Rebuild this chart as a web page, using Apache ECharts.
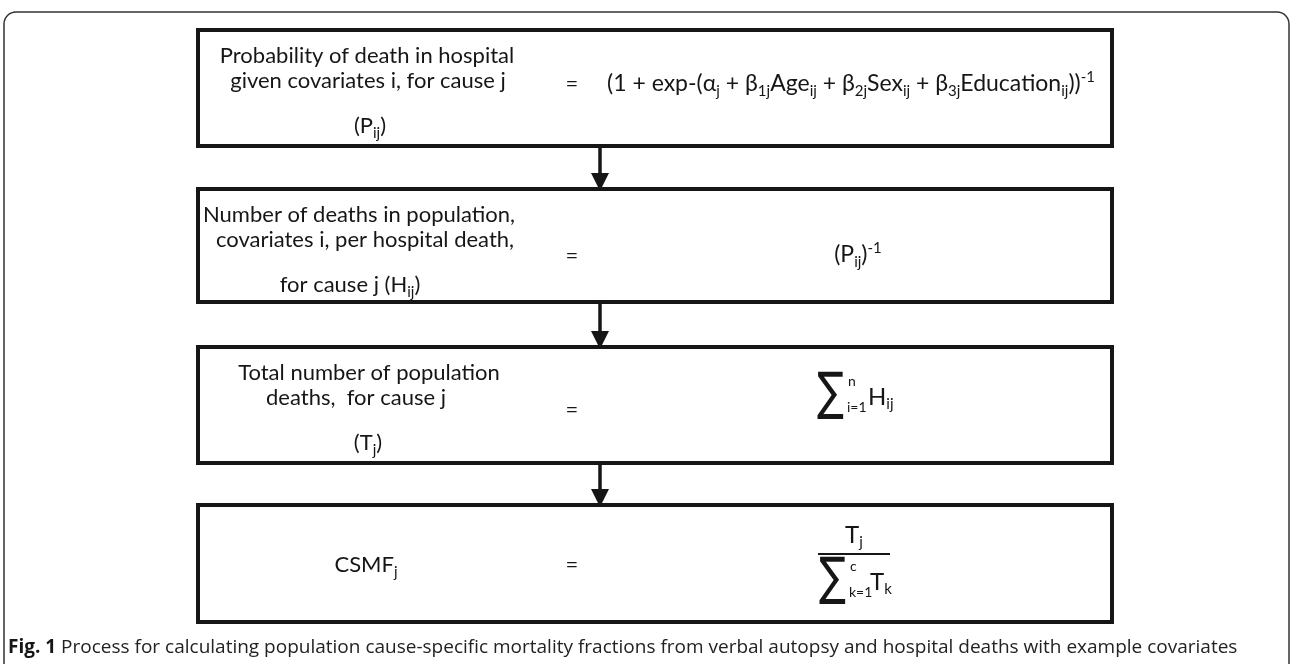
<!DOCTYPE html>
<html>
<head>
<meta charset="utf-8">
<script src="https://cdn.jsdelivr.net/npm/echarts@6/dist/echarts.min.js"></script>
<style>
html,body{margin:0;padding:0;background:#fff;}
#c{width:1293px;height:664px;}
</style>
</head>
<body>
<div id="c"></div>
<script>
// ---- content ----
var stepLines = [
  ['Probability of death in hospital', 'given covariates i, for cause j', '(P{sub|ij})'],
  ['Number of deaths in population,', 'covariates i, per hospital death,', 'for cause j (H{sub|ij})'],
  ['Total number of population', 'deaths,  for cause j', '(T{sub|j})'],
  ['CSMF{sub|j}']
];
var stepFormulas = [
  '(1 + exp-(α{sub|j} + β{sub|1j}Age{sub|ij} + β{sub|2j}Sex{sub|ij} + β{sub|3j}Education{sub|ij})){sup|-1}',
  '(P{sub|ij}){sup|-1}',
  null,
  null
];
var sumTerms = [
  null,
  null,
  {upper: 'n', lower: 'i=1', term: 'H', termSub: 'ij'},
  {upper: 'c', lower: 'k=1', term: 'T', termSub: 'k', numerator: 'T', numeratorSub: 'j'}
];
var captionBold = 'Fig. 1';
var captionText = ' Process for calculating population cause-specific mortality fractions from verbal autopsy and hospital deaths with example covariates';

// ---- layout ----
var boxLeft = 198, boxRight = 1112;
var boxTops = [30, 189, 347, 505];
var boxBottoms = [146, 302, 463, 622];
var lineOffsets = [26, 51, 96];
var lineCx = [[367, 368, 370], [359, 365, 350], [369, 356, 368], [366]];
var rowY = [84, 255, 404, 565];
var eqY = [84, 256, 410, 565];
var eqCx = 572, arrowX = 600;
var formulaCx = [851, 858];
var FONT = 'Lato, "Open Sans", sans-serif';
var BLACK = '#161616';

var rich = {
  sub: {fontSize: 15, fontFamily: FONT, padding: [14, 0, 0, 0], fill: BLACK},
  sup: {fontSize: 15, fontFamily: FONT, padding: [0, 0, 14, 0], fill: BLACK}
};

var els = [];
// outer frame
els.push({
  type: 'rect', shape: {x: 4, y: 12, width: 1285, height: 700, r: 12},
  style: {fill: 'none', stroke: '#333', lineWidth: 1.5}
});

function sumGroup(x, y, s) {
  var g = {type: 'group', x: x, y: y, children: []};
  g.children.push({type: 'text', x: -1, y: 0, scaleY: 1.3,
    style: {text: '∑', font: '40px "DejaVu Sans", sans-serif', fill: BLACK, align: 'left', verticalAlign: 'middle'}});
  g.children.push({type: 'text', x: 30, y: -14, style: {text: s.upper, font: '14px ' + FONT, fill: BLACK, align: 'left', verticalAlign: 'middle'}});
  g.children.push({type: 'text', x: 29, y: 12, style: {text: s.lower, font: '14px ' + FONT, fill: BLACK, align: 'left', verticalAlign: 'middle'}});
  g.children.push({type: 'text', x: 50, y: 2, style: {text: s.term + '{sub|' + s.termSub + '}', font: '24px ' + FONT, fill: BLACK, align: 'left', verticalAlign: 'middle', rich: rich}});
  return g;
}

for (var i = 0; i < boxTops.length; i++) {
  els.push({
    type: 'rect',
    shape: {x: boxLeft, y: boxTops[i], width: boxRight - boxLeft, height: boxBottoms[i] - boxTops[i]},
    style: {fill: 'none', stroke: BLACK, lineWidth: 4}
  });
  var lines = stepLines[i];
  for (var k = 0; k < lines.length; k++) {
    var ly = lines.length === 1 ? rowY[i] : boxTops[i] + lineOffsets[k];
    els.push({
      type: 'text', x: lineCx[i][k], y: ly,
      style: {text: lines[k], font: '22px ' + FONT, fill: BLACK, align: 'center', verticalAlign: 'middle', rich: rich}
    });
  }
  els.push({
    type: 'text', x: eqCx, y: eqY[i],
    style: {text: '=', font: '22px ' + FONT, fill: BLACK, align: 'center', verticalAlign: 'middle'}
  });
  if (stepFormulas[i]) {
    els.push({
      type: 'text', x: formulaCx[i], y: rowY[i],
      style: {text: stepFormulas[i], font: '23px ' + FONT, fill: BLACK, align: 'center', verticalAlign: 'middle', rich: rich}
    });
  }
  if (i < boxTops.length - 1) {
    var y0 = boxBottoms[i] + 1, y1 = boxTops[i + 1];
    els.push({type: 'line', shape: {x1: arrowX, y1: y0, x2: arrowX, y2: y1 - 12}, style: {stroke: BLACK, lineWidth: 3.5}});
    els.push({type: 'polygon', shape: {points: [[arrowX - 9, y1 - 16], [arrowX + 9, y1 - 16], [arrowX, y1 + 2]]}, style: {fill: BLACK}});
  }
}

// sum formula (box 3)
els.push(sumGroup(818, 395, sumTerms[2]));

// fraction (box 4)
var f = sumTerms[3];
els.push({type: 'text', x: 854, y: 535, style: {text: f.numerator + '{sub|' + f.numeratorSub + '}', font: '24px ' + FONT, fill: BLACK, align: 'center', verticalAlign: 'middle', rich: rich}});
els.push({type: 'line', shape: {x1: 818, y1: 554, x2: 890, y2: 554}, style: {stroke: BLACK, lineWidth: 2}});
els.push(sumGroup(820, 580, f));

// caption
els.push({
  type: 'text', x: 8, y: 648,
  style: {
    text: '{b|' + captionBold + '}{r|' + captionText + '}',
    font: '19px "Open Sans", sans-serif', fill: BLACK, align: 'left', verticalAlign: 'middle',
    rich: {
      b: {fontWeight: 'bold', fontSize: 19, fontFamily: '"Open Sans", sans-serif', fill: BLACK},
      r: {fontSize: 19, fontFamily: '"Open Sans", sans-serif', fill: '#222'}
    }
  }
});

var chart = echarts.init(document.getElementById('c'), null, {renderer: 'canvas'});
chart.setOption({
  backgroundColor: '#fff',
  animation: false,
  graphic: {elements: els}
});
</script>
</body>
</html>
